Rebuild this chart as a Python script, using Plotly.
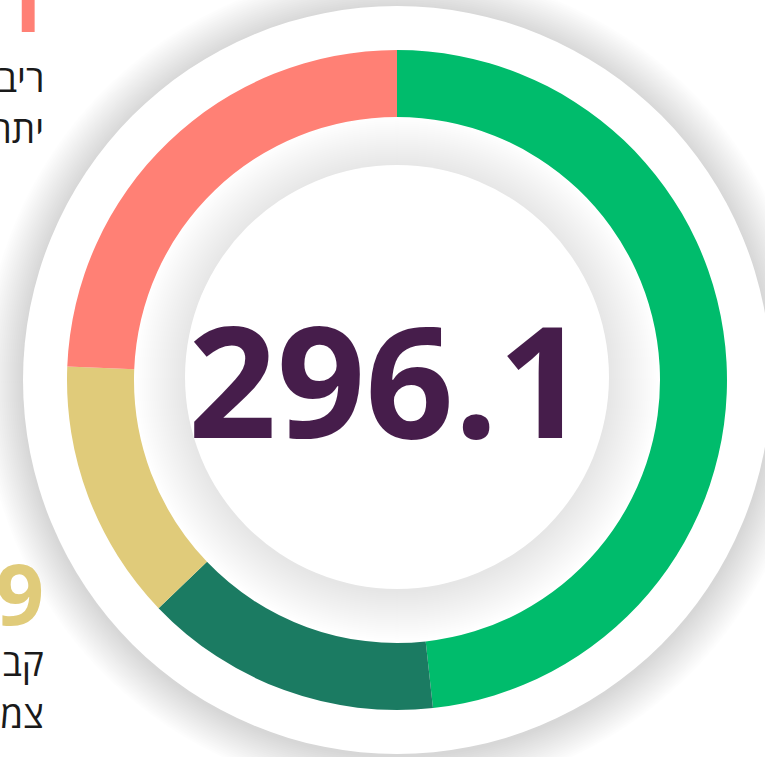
import plotly.graph_objects as go

W, H = 765, 757

# ---- data ----
categories = ["green", "darkgreen", "yellow", "red"]
values = [142.9, 43.2, 37.9, 72.1]
colors = ["#00BC6C", "#1B7B62", "#E0CB7A", "#FF8075"]
total_label = "296.1"
red_value_label = "72.1"
red_text_lines = ["ריבית משתנה", "יתרה"]
yellow_value_label = "37.9"
yellow_text_lines = ["קבועה", "צמודה"]

CX, CY = 397, 380
R_OUT = 330
R_IN = 263
R_RING = 374
ICX, ICY, R_INNER = 397, 377, 212


def circle(cx, cy, r, fill):
    return dict(type="circle", xref="paper", yref="paper",
                x0=(cx - r) / W, x1=(cx + r) / W,
                y0=1 - (cy + r) / H, y1=1 - (cy - r) / H,
                fillcolor=fill, line=dict(width=0), layer="below")


shapes = []
# outer soft shadow
for r in range(R_RING + 40, R_RING, -2):
    shapes.append(circle(CX, CY + 2, r, "rgba(0,0,0,0.006)"))
shapes.append(circle(CX, CY, R_RING, "#ffffff"))
# inner shadow
for r in range(R_IN - 1, R_INNER, -2):
    shapes.append(circle(ICX, ICY + 2, r, "rgba(0,0,0,0.0045)"))
shapes.append(circle(ICX, ICY, R_INNER, "#ffffff"))

fig = go.Figure()
fig.add_trace(go.Pie(
    labels=categories, values=values, hole=R_IN / R_OUT,
    sort=False, direction="clockwise", rotation=0,
    marker=dict(colors=colors, line=dict(width=0)),
    textinfo="none", hoverinfo="label+value", showlegend=False,
    domain=dict(x=[(CX - R_OUT) / W, (CX + R_OUT) / W],
                y=[1 - (CY + R_OUT) / H, 1 - (CY - R_OUT) / H]),
))

ann = []
ann.append(dict(text=total_label, x=387 / W, y=1 - 377.5 / H, xref="paper", yref="paper",
                xanchor="center", yanchor="middle", showarrow=False,
                font=dict(family="Open Sans", size=155, color="#461D4B", weight="bold")))

TX = 46 / W
hfont = dict(family="Open Sans, Noto Sans Hebrew, Liberation Sans, DejaVu Sans", size=37, color="#1a1a1a")
nfont_r = dict(family="Open Sans", size=85, color="#FF8075", weight="bold")
nfont_y = dict(family="Open Sans", size=85, color="#E0CB7A", weight="bold")

ann.append(dict(text=red_value_label, x=50 / W, y=1 - (-1) / H, xref="paper", yref="paper",
                xanchor="right", yanchor="middle", showarrow=False, font=nfont_r))
for i, t in enumerate(red_text_lines):
    ann.append(dict(text=t, x=TX, y=1 - (77 + 51 * i) / H, xref="paper", yref="paper",
                    xanchor="right", yanchor="middle", showarrow=False, font=hfont))
ann.append(dict(text=yellow_value_label, x=TX, y=1 - 592 / H, xref="paper", yref="paper",
                xanchor="right", yanchor="middle", showarrow=False, font=nfont_y))
for i, t in enumerate(yellow_text_lines):
    ann.append(dict(text=t, x=TX, y=1 - (661 + 52 * i) / H, xref="paper", yref="paper",
                    xanchor="right", yanchor="middle", showarrow=False, font=hfont))

fig.update_layout(
    width=W, height=H, margin=dict(l=0, r=0, t=0, b=0),
    paper_bgcolor="#ffffff", plot_bgcolor="#ffffff",
    shapes=shapes, annotations=ann,
)
fig.write_html("out.html", config={"displayModeBar": False},
               post_script="document.body.style.margin='0';document.body.style.overflow='hidden';")
